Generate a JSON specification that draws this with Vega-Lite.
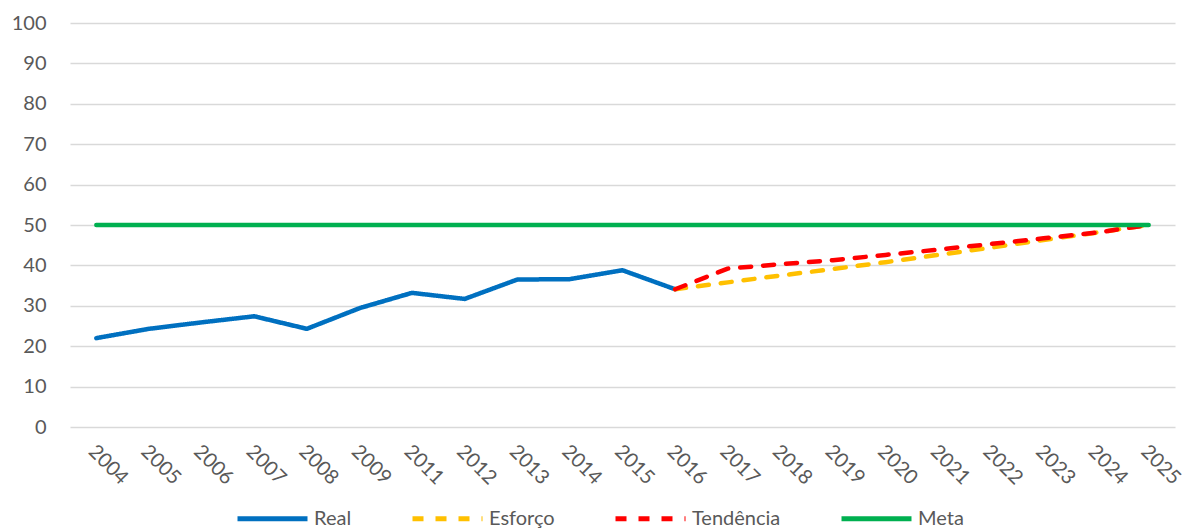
{
  "$schema": "https://vega.github.io/schema/vega-lite/v6.json",
  "autosize": {"type": "none"},
  "padding": {"left": 70, "top": 23, "right": 14, "bottom": 104},
  "width": 1105,
  "height": 404,
  "background": "white",
  "config": {
    "view": {"stroke": null},
    "font": "Lato",
    "axis": {"labelFont": "Lato", "labelColor": "#595959", "labelFontSize": 20},
    "legend": {"labelFont": "Lato", "labelColor": "#595959", "labelFontSize": 20}
  },
  "data": {
    "values": [
      {"serie": "Real", "ano": "2004", "valor": 22.0},
      {"serie": "Real", "ano": "2005", "valor": 24.3},
      {"serie": "Real", "ano": "2006", "valor": 25.9},
      {"serie": "Real", "ano": "2007", "valor": 27.4},
      {"serie": "Real", "ano": "2008", "valor": 24.3},
      {"serie": "Real", "ano": "2009", "valor": 29.4},
      {"serie": "Real", "ano": "2011", "valor": 33.2},
      {"serie": "Real", "ano": "2012", "valor": 31.7},
      {"serie": "Real", "ano": "2013", "valor": 36.5},
      {"serie": "Real", "ano": "2014", "valor": 36.6},
      {"serie": "Real", "ano": "2015", "valor": 38.8},
      {"serie": "Real", "ano": "2016", "valor": 34.1},
      {"serie": "Esforço", "ano": "2016", "valor": 34.1},
      {"serie": "Esforço", "ano": "2017", "valor": 35.8},
      {"serie": "Esforço", "ano": "2018", "valor": 37.5},
      {"serie": "Esforço", "ano": "2019", "valor": 39.1},
      {"serie": "Esforço", "ano": "2020", "valor": 40.8},
      {"serie": "Esforço", "ano": "2021", "valor": 42.6},
      {"serie": "Esforço", "ano": "2022", "valor": 44.4},
      {"serie": "Esforço", "ano": "2023", "valor": 46.3},
      {"serie": "Esforço", "ano": "2024", "valor": 48.1},
      {"serie": "Esforço", "ano": "2025", "valor": 50.0},
      {"serie": "Tendência", "ano": "2016", "valor": 34.1},
      {"serie": "Tendência", "ano": "2017", "valor": 39.2},
      {"serie": "Tendência", "ano": "2018", "valor": 40.3},
      {"serie": "Tendência", "ano": "2019", "valor": 41.3},
      {"serie": "Tendência", "ano": "2020", "valor": 42.6},
      {"serie": "Tendência", "ano": "2021", "valor": 43.9},
      {"serie": "Tendência", "ano": "2022", "valor": 45.3},
      {"serie": "Tendência", "ano": "2023", "valor": 46.7},
      {"serie": "Tendência", "ano": "2024", "valor": 48.1},
      {"serie": "Tendência", "ano": "2025", "valor": 50.0},
      {"serie": "Meta", "ano": "2004", "valor": 50},
      {"serie": "Meta", "ano": "2005", "valor": 50},
      {"serie": "Meta", "ano": "2006", "valor": 50},
      {"serie": "Meta", "ano": "2007", "valor": 50},
      {"serie": "Meta", "ano": "2008", "valor": 50},
      {"serie": "Meta", "ano": "2009", "valor": 50},
      {"serie": "Meta", "ano": "2011", "valor": 50},
      {"serie": "Meta", "ano": "2012", "valor": 50},
      {"serie": "Meta", "ano": "2013", "valor": 50},
      {"serie": "Meta", "ano": "2014", "valor": 50},
      {"serie": "Meta", "ano": "2015", "valor": 50},
      {"serie": "Meta", "ano": "2016", "valor": 50},
      {"serie": "Meta", "ano": "2017", "valor": 50},
      {"serie": "Meta", "ano": "2018", "valor": 50},
      {"serie": "Meta", "ano": "2019", "valor": 50},
      {"serie": "Meta", "ano": "2020", "valor": 50},
      {"serie": "Meta", "ano": "2021", "valor": 50},
      {"serie": "Meta", "ano": "2022", "valor": 50},
      {"serie": "Meta", "ano": "2023", "valor": 50},
      {"serie": "Meta", "ano": "2024", "valor": 50},
      {"serie": "Meta", "ano": "2025", "valor": 50}
    ]
  },
  "mark": {"type": "line", "strokeWidth": 4.5, "strokeCap": "round", "strokeJoin": "round"},
  "encoding": {
    "x": {
      "field": "ano", "type": "ordinal", "sort": "ascending",
      "scale": {"type": "point", "padding": 0.5},
      "axis": {"title": null, "domain": false, "ticks": false, "grid": false, "labelAngle": 45, "labelPadding": 14, "labelOffset": 2}
    },
    "y": {
      "field": "valor", "type": "quantitative",
      "scale": {"domain": [0, 100], "nice": false},
      "axis": {"title": null, "values": [0,10,20,30,40,50,60,70,80,90,100], "domain": false, "ticks": false, "labelPadding": 24, "gridColor": "#d9d9d9", "gridWidth": 1.3}
    },
    "color": {
      "field": "serie", "type": "nominal",
      "sort": ["Real", "Esforço", "Tendência", "Meta"],
      "scale": {"domain": ["Real", "Esforço", "Tendência", "Meta"], "range": ["#0070C0", "#FFC000", "#FF0000", "#00B050"]},
      "legend": {
        "title": null, "orient": "none", "direction": "horizontal",
        "legendX": 165, "legendY": 458, "padding": 0,
        "symbolType": "stroke", "symbolSize": 4900, "symbolStrokeWidth": 5,
        "labelOffset": 4, "columnPadding": 50
      }
    },
    "strokeDash": {
      "field": "serie", "type": "nominal",
      "sort": ["Real", "Esforço", "Tendência", "Meta"],
      "scale": {"domain": ["Real", "Esforço", "Tendência", "Meta"], "range": [[1, 0], [11, 12], [11, 12], [1, 0]]},
      "legend": null
    },
    "order": {"field": "ano"}
  }
}
